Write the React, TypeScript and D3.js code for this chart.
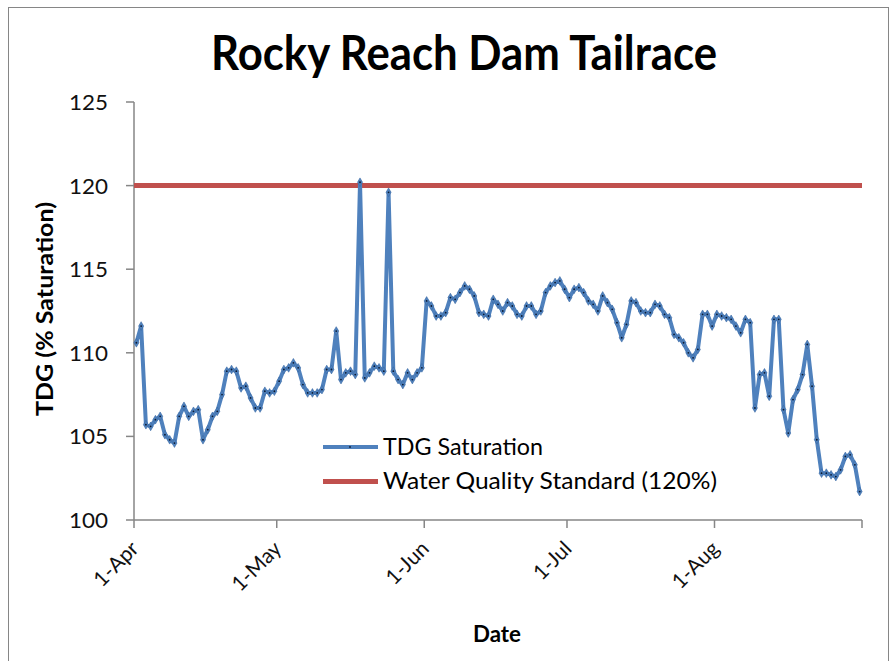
import React, { useEffect, useRef } from "react";
import * as d3 from "d3";

// daily TDG % saturation, by month
const april = [110.6, 111.6, 105.7, 105.6, 106.0, 106.2, 105.1, 104.8, 104.6, 106.2, 106.8, 106.2, 106.5, 106.6, 104.8, 105.4, 106.2, 106.5, 107.5, 108.9, 109.0, 108.9, 107.9, 108.0, 107.3, 106.7, 106.7, 107.7, 107.6, 107.7];
const may = [108.3, 109.0, 109.1, 109.4, 109.1, 108.1, 107.6, 107.6, 107.6, 107.8, 109.0, 109.0, 111.3, 108.4, 108.8, 108.9, 108.7, 120.2, 108.5, 108.8, 109.2, 109.1, 108.9, 119.6, 108.9, 108.4, 108.1, 108.8, 108.4, 108.8, 109.1];
const june = [113.1, 112.8, 112.2, 112.2, 112.4, 113.3, 113.2, 113.6, 114.0, 113.8, 113.4, 112.4, 112.3, 112.2, 113.2, 112.9, 112.5, 113.0, 112.8, 112.3, 112.2, 112.8, 112.8, 112.3, 112.5, 113.6, 114.0, 114.2, 114.3, 113.8];
const july = [113.3, 113.8, 113.9, 113.6, 113.1, 112.9, 112.5, 113.4, 113.0, 112.6, 111.8, 110.9, 111.7, 113.1, 113.0, 112.5, 112.4, 112.4, 112.9, 112.8, 112.3, 112.1, 111.1, 110.9, 110.6, 110.0, 109.7, 110.2, 112.3, 112.3, 111.6];
const august = [112.3, 112.2, 112.1, 112.0, 111.6, 111.2, 112.0, 111.8, 106.7, 108.7, 108.8, 107.4, 112.0, 112.0, 106.6, 105.2, 107.2, 107.8, 108.7, 110.5, 108.0, 104.8, 102.8, 102.8, 102.7, 102.6, 103.0, 103.8, 103.9, 103.3, 101.7];
const months = [april, may, june, july, august];

const standard = 120;
const yTicks = [100, 105, 110, 115, 120, 125];
const xTickLabels = ["1-Apr", "1-May", "1-Jun", "1-Jul", "1-Aug", ""];
const xTickDates = [
  new Date(2010, 3, 1),
  new Date(2010, 4, 1),
  new Date(2010, 5, 1),
  new Date(2010, 6, 1),
  new Date(2010, 7, 1),
  new Date(2010, 8, 1),
];

const font = "Lato, 'Open Sans', sans-serif";
const blue = "#4F81BD";
const red = "#C0504D";
const axisGray = "#868686";

export default function App() {
  const ref = useRef<SVGSVGElement>(null);

  useEffect(() => {
    const data: { date: Date; value: number }[] = [];
    months.forEach((vals, m) => {
      vals.forEach((v, i) => {
        data.push({ date: new Date(2010, 3 + m, i + 1, 12), value: v });
      });
    });

    const svg = d3.select(ref.current).html(null);

    const x = d3
      .scaleTime()
      .domain([xTickDates[0], xTickDates[5]])
      .range([134, 862]);
    const y = d3.scaleLinear().domain([100, 125]).range([520, 102]);

    // chart area border
    svg
      .append("rect")
      .attr("x", 8.5)
      .attr("y", 7.5)
      .attr("width", 880)
      .attr("height", 662)
      .attr("fill", "white")
      .attr("stroke", axisGray)
      .attr("stroke-width", 1);

    // title
    svg
      .append("text")
      .attr("x", 464)
      .attr("y", 70)
      .attr("text-anchor", "middle")
      .attr("font-family", font)
      .attr("font-weight", "bold")
      .attr("font-size", 48)
      .attr("textLength", 506)
      .attr("lengthAdjust", "spacingAndGlyphs")
      .text("Rocky Reach Dam Tailrace");

    // y axis
    const yAxis = svg.append("g");
    yAxis
      .append("line")
      .attr("x1", 134)
      .attr("x2", 134)
      .attr("y1", y(125))
      .attr("y2", y(100))
      .attr("stroke", axisGray)
      .attr("stroke-width", 1.5);
    yAxis
      .selectAll("line.tick")
      .data(yTicks)
      .enter()
      .append("line")
      .attr("class", "tick")
      .attr("x1", 126)
      .attr("x2", 134)
      .attr("y1", (d) => y(d))
      .attr("y2", (d) => y(d))
      .attr("stroke", axisGray)
      .attr("stroke-width", 1.5);
    yAxis
      .selectAll("text")
      .data(yTicks)
      .enter()
      .append("text")
      .attr("x", 108)
      .attr("y", (d) => y(d) + 8)
      .attr("text-anchor", "end")
      .attr("font-family", font)
      .attr("font-size", 21)
      .attr("textLength", 39)
      .attr("lengthAdjust", "spacingAndGlyphs")
      .attr("fill", "#111")
      .text((d) => d);

    // y axis title
    svg
      .append("text")
      .attr("transform", "translate(53, 309) rotate(-90)")
      .attr("text-anchor", "middle")
      .attr("font-family", font)
      .attr("font-weight", "bold")
      .attr("font-size", 22)
      .attr("textLength", 214)
      .attr("lengthAdjust", "spacingAndGlyphs")
      .text("TDG (% Saturation)");

    // x axis
    const xAxis = svg.append("g");
    xAxis
      .append("line")
      .attr("x1", 134)
      .attr("x2", 862)
      .attr("y1", 520)
      .attr("y2", 520)
      .attr("stroke", axisGray)
      .attr("stroke-width", 1.5);
    xAxis
      .selectAll("line.tick")
      .data(xTickDates)
      .enter()
      .append("line")
      .attr("class", "tick")
      .attr("x1", (d) => x(d))
      .attr("x2", (d) => x(d))
      .attr("y1", 520)
      .attr("y2", 528)
      .attr("stroke", axisGray)
      .attr("stroke-width", 1.5);
    xAxis
      .selectAll("text")
      .data(xTickDates)
      .enter()
      .append("text")
      .attr("transform", (d) => `translate(${x(d) + 6}, 550) rotate(-45)`)
      .attr("text-anchor", "end")
      .attr("font-family", font)
      .attr("font-size", 21)
      .attr("fill", "#111")
      .text((d, i) => xTickLabels[i]);

    svg
      .append("text")
      .attr("x", 497)
      .attr("y", 642)
      .attr("text-anchor", "middle")
      .attr("font-family", font)
      .attr("font-weight", "bold")
      .attr("font-size", 22)
      .attr("textLength", 48)
      .attr("lengthAdjust", "spacingAndGlyphs")
      .text("Date");

    // standard line
    svg
      .append("line")
      .attr("x1", x(xTickDates[0]))
      .attr("x2", x(xTickDates[5]))
      .attr("y1", y(standard))
      .attr("y2", y(standard))
      .attr("stroke", red)
      .attr("stroke-width", 5);

    // TDG series
    const line = d3
      .line<{ date: Date; value: number }>()
      .x((d) => x(d.date))
      .y((d) => y(d.value));
    svg
      .append("path")
      .datum(data)
      .attr("d", line)
      .attr("fill", "none")
      .attr("stroke", blue)
      .attr("stroke-width", 4)
      .attr("stroke-linejoin", "round");

    const diamond = d3.symbol().type(d3.symbolDiamond).size(22);
    svg
      .append("g")
      .selectAll("path")
      .data(data)
      .enter()
      .append("path")
      .attr("d", diamond)
      .attr("transform", (d) => `translate(${x(d.date)}, ${y(d.value)})`)
      .attr("fill", blue)
      .attr("stroke", "#3a6aa5")
      .attr("stroke-width", 0.6);
    svg
      .append("g")
      .selectAll("circle")
      .data(data)
      .enter()
      .append("circle")
      .attr("cx", (d) => x(d.date))
      .attr("cy", (d) => y(d.value))
      .attr("r", 0.9)
      .attr("fill", "#0b1a33");

    // legend
    const legend = svg.append("g");
    legend
      .append("line")
      .attr("x1", 323)
      .attr("x2", 378)
      .attr("y1", 447)
      .attr("y2", 447)
      .attr("stroke", blue)
      .attr("stroke-width", 4);
    legend
      .append("circle")
      .attr("cx", 350)
      .attr("cy", 447)
      .attr("r", 0.9)
      .attr("fill", "#0b1a33");
    legend
      .append("line")
      .attr("x1", 323)
      .attr("x2", 378)
      .attr("y1", 481.5)
      .attr("y2", 481.5)
      .attr("stroke", red)
      .attr("stroke-width", 5);
    legend
      .append("text")
      .attr("x", 383)
      .attr("y", 455)
      .attr("font-family", font)
      .attr("font-size", 24)
      .attr("textLength", 160)
      .attr("lengthAdjust", "spacingAndGlyphs")
      .text("TDG Saturation");
    legend
      .append("text")
      .attr("x", 383)
      .attr("y", 489)
      .attr("font-family", font)
      .attr("font-size", 24)
      .attr("textLength", 334)
      .attr("lengthAdjust", "spacingAndGlyphs")
      .text("Water Quality Standard (120%)");
  }, []);

  return (
    <div style={{ position: "absolute", left: 0, top: 0 }}>
      <svg ref={ref} width={891} height={661}></svg>
    </div>
  );
}
